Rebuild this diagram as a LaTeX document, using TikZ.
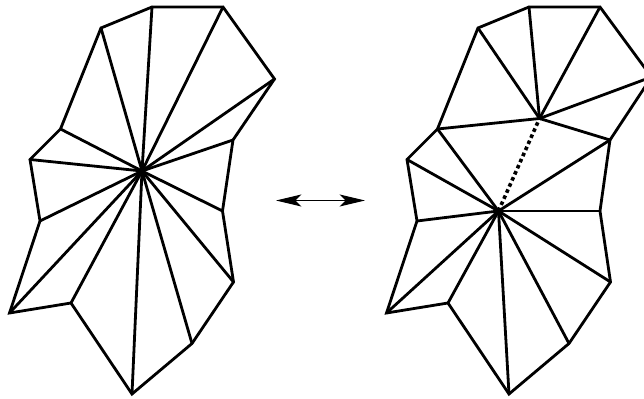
\documentclass[tikz,border=0pt]{standalone}
\usetikzlibrary{arrows.meta}
\tikzset{
  mesh/.style={line width=2.1pt,line join=miter,miter limit=10,line cap=round},
  flip/.style={line width=2.7pt,dash pattern=on 2.7pt off 2.3pt},
  swap/.style={line width=0.8pt,{Stealth[length=19pt,width=9pt,inset=4.5pt]}-{Stealth[length=19pt,width=9pt,inset=4.5pt]}}
}
\begin{document}
\begin{tikzpicture}[x=0.75pt,y=-0.75pt]
\useasboundingbox (0,0) rectangle (644,399);
\clip (0,0) rectangle (644,399);
% left figure
\coordinate (c) at (142,171);
\coordinate (a1) at (152,7);
\coordinate (a2) at (223,7);
\coordinate (a3) at (274.5,79);
\coordinate (a4) at (233,140);
\coordinate (a5) at (222.5,211);
\coordinate (a6) at (233.5,282);
\coordinate (a7) at (192,343.5);
\coordinate (a8) at (132,394);
\coordinate (a9) at (71,303);
\coordinate (a10) at (9.5,313);
\coordinate (a11) at (40,221);
\coordinate (a12) at (30,159.5);
\coordinate (a13) at (60.5,129);
\coordinate (a14) at (101,28);
\draw[mesh] (a1)--(a2)--(a3)--(a4)--(a5)--(a6)--(a7)--(a8)--(a9)--(a10)--(a11)--(a12)--(a13)--(a14)--cycle;
\foreach \i in {1,...,14} \draw[mesh] (c)--(a\i);
% right figure
\coordinate (u) at (539.5,118.5);
\coordinate (l) at (498.5,211);
\coordinate (b1) at (529,7);
\coordinate (b2) at (600,7);
\coordinate (b3) at (651.5,77);
\coordinate (b4) at (610,140);
\coordinate (b5) at (600,211);
\coordinate (b6) at (610.5,282);
\coordinate (b7) at (569,343.5);
\coordinate (b8) at (509,394);
\coordinate (b9) at (448,303);
\coordinate (b10) at (386.5,313);
\coordinate (b11) at (417,221);
\coordinate (b12) at (407,159.5);
\coordinate (b13) at (437.5,129);
\coordinate (b14) at (478,28);
\draw[mesh] (b1)--(b2)--(b3)--(b4)--(b5)--(b6)--(b7)--(b8)--(b9)--(b10)--(b11)--(b12)--(b13)--(b14)--cycle;
\foreach \i in {1,2,3,4,13,14} \draw[mesh] (u)--(b\i);
\foreach \i in {4,5,...,13} \draw[mesh] (l)--(b\i);
\draw[flip] (l)--(u);
% double arrow
\coordinate (p) at (276,200.5);
\coordinate (q) at (365,200.5);
\draw[swap] (p)--(q);
\end{tikzpicture}
\end{document}
